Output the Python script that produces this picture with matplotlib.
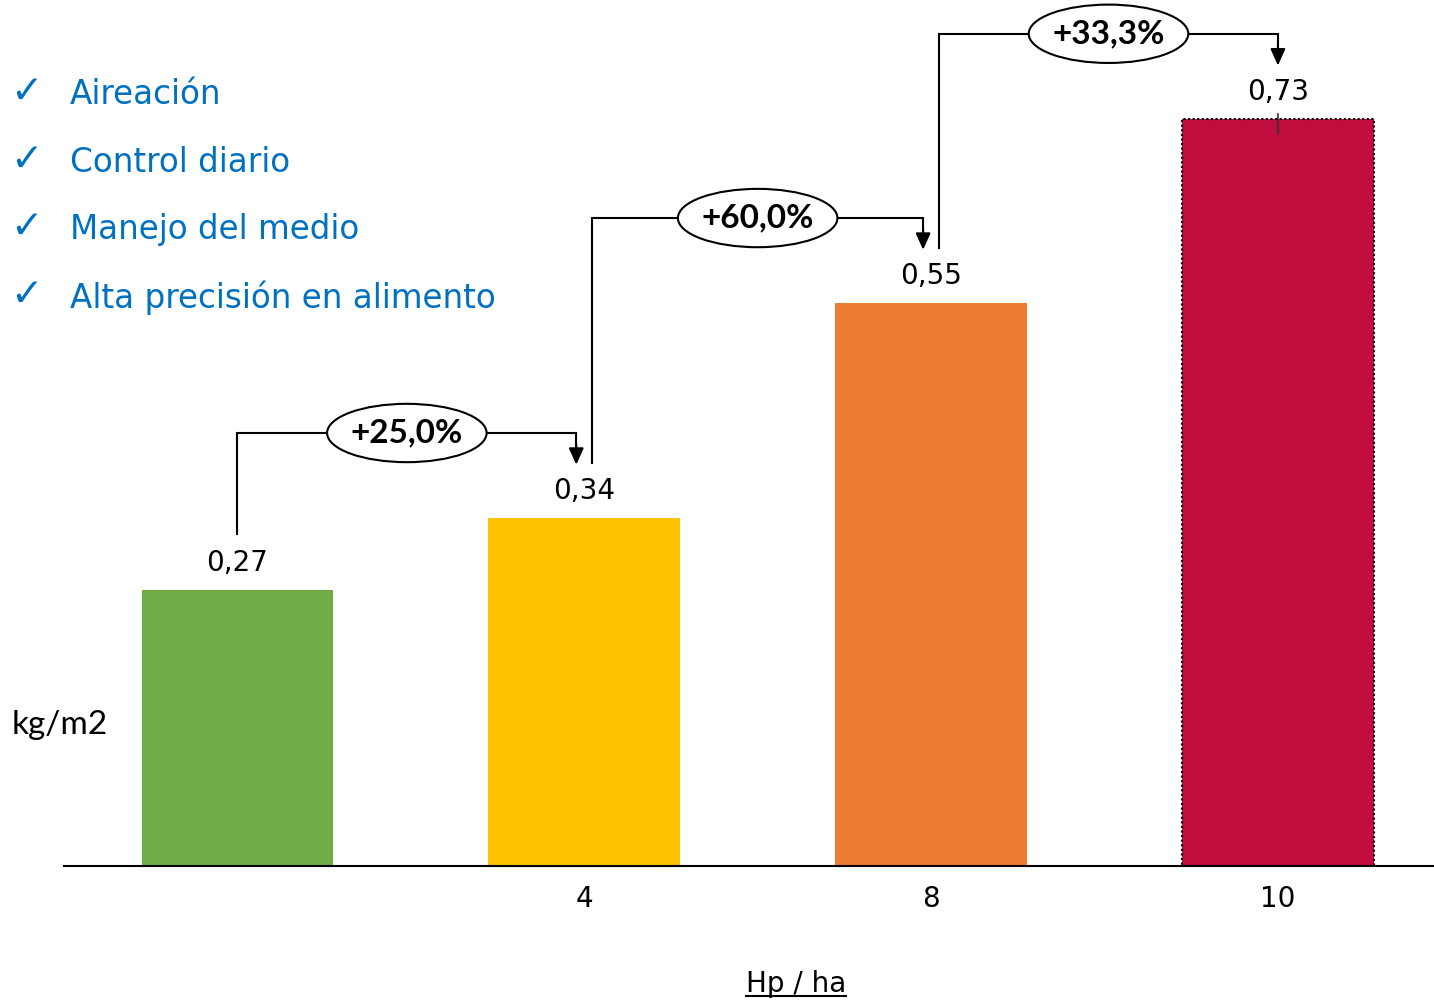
import matplotlib.pyplot as plt
from matplotlib.patches import Ellipse
from matplotlib.lines import Line2D

# datos
categorias = ["", "4", "8", "10"]
valores = [0.27, 0.34, 0.55, 0.73]
etiquetas = ["0,27", "0,34", "0,55", "0,73"]
incrementos = ["+25,0%", "+60,0%", "+33,3%"]
colores = ["#70AD47", "#FFC000", "#ED7D31", "#C00D3D"]
puntos = ["Aireación", "Control diario", "Manejo del medio", "Alta precisión en alimento"]

fig = plt.figure(figsize=(14.34, 10.02), dpi=100)
ax = fig.add_axes([64 / 1434, 136 / 1002, 1 - 64 / 1434, 866 / 1002])

x = list(range(len(valores)))
barras = ax.bar(x, valores, width=0.553, color=colores)
# la ultima barra con borde punteado
barras[-1].set_edgecolor("black")
barras[-1].set_linestyle((0, (1, 1.2)))
barras[-1].set_linewidth(1.5)
ax.plot([x[-1], x[-1]], [valores[-1] - 0.015, valores[-1] + 0.005], color="#333333", lw=1.2)

ax.set_xlim(-0.5, 3.45)
ax.set_ylim(0, 0.846)
ax.set_xticks(x)
ax.set_xticklabels(categorias, fontsize=20, family="DejaVu Sans")
ax.tick_params(axis="x", length=0, pad=14)
ax.set_yticks([])
for s in ["left", "right", "top"]:
    ax.spines[s].set_visible(False)
ax.spines["bottom"].set_linewidth(1.5)

for xi, v, t in zip(x, valores, etiquetas):
    ax.annotate(t, (xi, v), xytext=(0, 9), textcoords="offset points",
                ha="center", va="bottom", fontsize=20, family="DejaVu Sans")

# conectores con porcentaje de aumento
dx = 0.023
for i, txt in enumerate(incrementos):
    a, b = valores[i], valores[i + 1]
    nivel = b + 0.083
    x0 = x[i] + (dx if i > 0 else 0)
    x1 = x[i + 1] - (dx if i + 1 < len(valores) - 1 else 0)
    ax.plot([x0, x0, x1, x1], [a + 0.054, nivel, nivel, b + 0.07],
            color="black", lw=1.5, solid_joinstyle="miter")
    ax.annotate("", xy=(x1, b + 0.052), xytext=(x1, b + 0.072),
                arrowprops=dict(arrowstyle="-|>,head_length=1.0,head_width=0.45",
                                color="black", lw=1.5, shrinkA=0, shrinkB=0))
    xm = (x0 + x1) / 2
    ax.add_patch(Ellipse((xm, nivel), 0.46, 0.057, facecolor="white",
                         edgecolor="black", lw=1.5, zorder=3))
    ax.text(xm, nivel, txt, ha="center", va="center", fontsize=24,
            fontweight="bold", family="Lato", zorder=4)

# lista de mejoras
for k, p in enumerate(puntos):
    yk = 1 - (95 + 67.5 * k) / 1002
    fig.text(10 / 1434, yk + 0.003, "✓", color="#0070C0", fontsize=28,
             ha="left", va="center", family="DejaVu Sans", fontweight="bold")
    fig.text(70 / 1434, yk, p, color="#0070C0", fontsize=23.5,
             ha="left", va="center", family="DejaVu Sans")

fig.text(12 / 1434, 1 - 725 / 1002, "kg/m2", fontsize=24, family="Lato",
         ha="left", va="center")

xl = fig.text(796 / 1434, 1 - 984 / 1002, "Hp / ha", fontsize=20,
              family="DejaVu Sans", ha="center", va="center")
fig.canvas.draw()
bb = xl.get_window_extent().transformed(fig.transFigure.inverted())
fig.add_artist(Line2D([bb.x0, bb.x1], [bb.y0 + 0.002, bb.y0 + 0.002],
                      color="black", lw=1.5, transform=fig.transFigure))

fig.savefig("out.png", dpi=100)
